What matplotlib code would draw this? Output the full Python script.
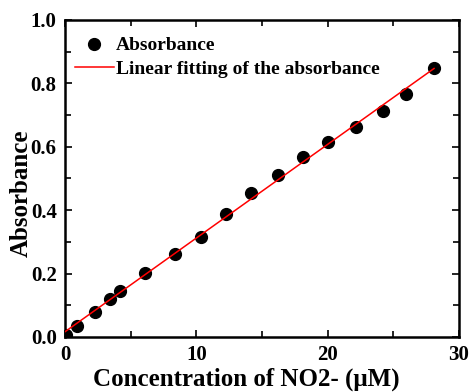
import numpy as np
import matplotlib.pyplot as plt
from matplotlib.ticker import MultipleLocator

# NO2- concentration (uM) and measured absorbance
concentration = [0.1, 0.95, 2.3, 3.45, 4.15, 6.1, 8.4, 10.35, 12.25,
                 14.2, 16.25, 18.15, 20.05, 22.15, 24.25, 25.95, 28.1]
absorbance = [0.006, 0.035, 0.078, 0.121, 0.146, 0.203, 0.262, 0.317, 0.388,
              0.453, 0.511, 0.569, 0.616, 0.664, 0.714, 0.767, 0.850]

plt.rcParams["font.family"] = ["Liberation Serif", "DejaVu Serif"]
plt.rcParams["font.weight"] = "bold"

fig = plt.figure(figsize=(4.7, 3.92), dpi=100)
ax = fig.add_axes([65 / 470, 55 / 392, 394 / 470, 317 / 392])

slope, intercept = np.polyfit(concentration, absorbance, 1)
fit_x = np.array([0, max(concentration)])

ax.plot(concentration, absorbance, "o", color="black", markersize=8.5,
        label="Absorbance", zorder=3)
ax.plot(fit_x, slope * fit_x + intercept, "-", color="red", linewidth=1.1,
        label="Linear fitting of the absorbance", zorder=4)

ax.set_xlim(0, 30)
ax.set_ylim(0, 1.0)
ax.xaxis.set_major_locator(MultipleLocator(10))
ax.xaxis.set_minor_locator(MultipleLocator(5))
ax.yaxis.set_major_locator(MultipleLocator(0.2))
ax.yaxis.set_minor_locator(MultipleLocator(0.1))
ax.tick_params(which="both", direction="in", top=True, right=True,
               width=1.2, labelsize=15)
ax.tick_params(axis="y", pad=6)
ax.tick_params(axis="x", pad=6)
ax.tick_params(which="major", length=5)
ax.tick_params(which="minor", length=4)
for spine in ax.spines.values():
    spine.set_linewidth(1.8)

ax.set_xlabel("Concentration of NO2- (μM)", fontsize=18, fontweight="bold")
ax.set_ylabel("Absorbance", fontsize=18, fontweight="bold")
ax.xaxis.set_label_coords(0.459, -0.097)
ax.yaxis.set_label_coords(-0.082, 0.454)

ax.legend(loc="upper left", frameon=False, fontsize=14, handlelength=2.0,
          handletextpad=0.1, borderaxespad=0.3, labelspacing=0.3,
          bbox_to_anchor=(-0.01, 0.99))

fig.savefig("out.png", dpi=100)
plt.close(fig)
